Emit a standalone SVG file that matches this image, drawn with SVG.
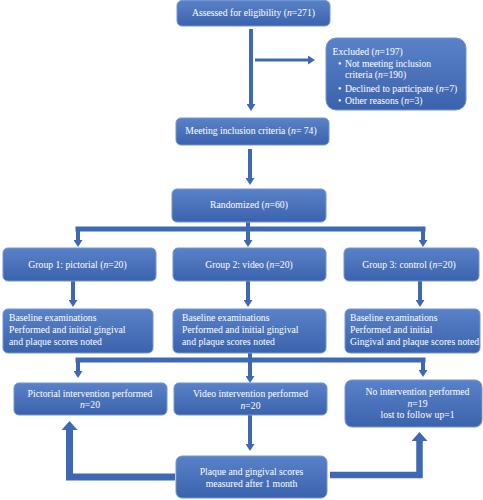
<svg xmlns="http://www.w3.org/2000/svg" width="483" height="500" viewBox="0 0 483 500">
<defs>
<linearGradient id="bg" x1="0" y1="0" x2="0" y2="1">
<stop offset="0" stop-color="#5a82c8"/>
<stop offset="1" stop-color="#3b62ad"/>
</linearGradient>
<marker id="ah" viewBox="0 0 7 9" markerWidth="7" markerHeight="9" refX="0" refY="4.5" orient="auto" markerUnits="userSpaceOnUse">
<path d="M0,0 L7,4.5 L0,9 z" fill="#3f68b4"/>
</marker>
<marker id="bigah" viewBox="0 0 9 16" markerWidth="9" markerHeight="16" refX="0" refY="8" orient="auto" markerUnits="userSpaceOnUse">
<path d="M0,0 L9,8 L0,16 z" fill="#3f68b4"/>
</marker>
</defs>
<style>
.box{fill:url(#bg);stroke:#7395d2;stroke-width:1}
.t{font-family:"Liberation Serif","Times New Roman",serif;font-size:9.7px;fill:#ffffff}
.c{text-anchor:middle}
.i{font-style:italic}
.ln{fill:none;stroke:#3f68b4;stroke-linejoin:miter}
.a{marker-end:url(#ah)}
.b{marker-end:url(#bigah)}
</style>
<rect width="483" height="500" fill="#ffffff"/>

<g id="connectors">
<path class="ln a" stroke-width="4" d="M251,29 V104"/>
<path class="ln a" stroke-width="3" d="M255,60 H308"/>
<path class="ln a" stroke-width="4" d="M250,149 V178"/>
<path class="ln" stroke-width="4" d="M248,222 V229"/>
<path class="ln" stroke-width="5" d="M75.5,229 H425.5"/>
<path class="ln a" stroke-width="4" d="M78,229 V240"/>
<path class="ln a" stroke-width="4" d="M248,229 V240"/>
<path class="ln a" stroke-width="4" d="M423,229 V240"/>
<path class="ln a" stroke-width="4" d="M73,281 V300"/>
<path class="ln a" stroke-width="4" d="M248,281 V300"/>
<path class="ln a" stroke-width="4" d="M420,281 V300"/>
<path class="ln" stroke-width="4" d="M250,353 V360"/>
<path class="ln" stroke-width="5" d="M75.5,360 H425.5"/>
<path class="ln a" stroke-width="4" d="M78,360 V371"/>
<path class="ln a" stroke-width="4" d="M250,360 V376"/>
<path class="ln a" stroke-width="4" d="M423,360 V370"/>
<path class="ln a" stroke-width="4" d="M250,415 V444"/>
<path class="ln b" stroke-width="7" d="M175,477 H69.5 V430"/>
<path class="ln b" stroke-width="6.5" d="M330,475 H419.5 V441"/>
</g>

<g id="assessed">
<rect class="box" x="177" y="0.5" width="153" height="25.5" rx="5"/>
<text class="t c" x="253.5" y="15.5">Assessed for eligibility (<tspan class="i">n</tspan>=271)</text>
</g>

<g id="excluded">
<rect class="box" x="326" y="38" width="140" height="72" rx="10"/>
<text class="t" x="332.5" y="55">Excluded (<tspan class="i">n</tspan>=197)</text>
<text class="t" x="338" y="66.5">•</text>
<text class="t" x="345" y="66.5">Not meeting inclusion</text>
<text class="t" x="345" y="78">criteria (<tspan class="i">n</tspan>=190)</text>
<text class="t" x="338" y="91.5">•</text>
<text class="t" x="345" y="91.5">Declined to participate (<tspan class="i">n</tspan>=7)</text>
<text class="t" x="338" y="103.5">•</text>
<text class="t" x="345" y="103.5">Other reasons (<tspan class="i">n</tspan>=3)</text>
</g>

<g id="meeting">
<rect class="box" x="176" y="118" width="153" height="27" rx="5"/>
<text class="t c" x="251" y="134">Meeting inclusion criteria (<tspan class="i">n</tspan>= 74)</text>
</g>

<g id="randomized">
<rect class="box" x="172" y="189" width="154" height="33" rx="5"/>
<text class="t c" x="249" y="208">Randomized (<tspan class="i">n</tspan>=60)</text>
</g>

<g id="group1">
<rect class="box" x="3" y="248" width="153" height="33" rx="5"/>
<text class="t c" x="77.5" y="267.5">Group 1: pictorial (<tspan class="i">n</tspan>=20)</text>
</g>
<g id="group2">
<rect class="box" x="173" y="248" width="153" height="33" rx="5"/>
<text class="t c" x="249" y="267.5">Group 2: video (<tspan class="i">n</tspan>=20)</text>
</g>
<g id="group3">
<rect class="box" x="344" y="248" width="135" height="33" rx="5"/>
<text class="t c" x="409" y="267.5">Group 3: control (<tspan class="i">n</tspan>=20)</text>
</g>

<g id="baseline1">
<rect class="box" x="3" y="309" width="150" height="44" rx="5"/>
<text class="t" x="9" y="320.5">Baseline examinations</text>
<text class="t" x="9" y="332.5">Performed and initial gingival</text>
<text class="t" x="9" y="344.5">and plaque scores noted</text>
</g>
<g id="baseline2">
<rect class="box" x="173" y="309" width="153" height="44" rx="5"/>
<text class="t" x="182" y="320.5">Baseline examinations</text>
<text class="t" x="182" y="332.5">Performed and initial gingival</text>
<text class="t" x="182" y="344.5">and plaque scores noted</text>
</g>
<g id="baseline3">
<rect class="box" x="345" y="309" width="135" height="44" rx="5"/>
<text class="t" x="350" y="320.5">Baseline examinations</text>
<text class="t" x="350" y="332.5">Performed and initial</text>
<text class="t" x="350" y="344.5">Gingival and plaque scores noted</text>
</g>

<g id="pictorial">
<rect class="box" x="14" y="383" width="153" height="32" rx="5"/>
<text class="t c" x="90" y="396.5">Pictorial intervention performed</text>
<text class="t c" x="90" y="408"><tspan class="i">n</tspan>=20</text>
</g>
<g id="video">
<rect class="box" x="174" y="383" width="153" height="32" rx="5"/>
<text class="t c" x="250.5" y="397">Video intervention performed</text>
<text class="t c" x="250.5" y="408.5"><tspan class="i">n</tspan>=20</text>
</g>
<g id="nointervention">
<rect class="box" x="345" y="380" width="137" height="47" rx="7"/>
<text class="t c" x="417.5" y="395">No intervention performed</text>
<text class="t c" x="417.5" y="406.5"><tspan class="i">n</tspan>=19</text>
<text class="t c" x="417.5" y="418">lost to follow up=1</text>
</g>

<g id="plaque">
<rect class="box" x="176" y="456" width="151" height="42" rx="6"/>
<text class="t c" x="251.5" y="474.5">Plaque and gingival scores</text>
<text class="t c" x="251.5" y="486.5">measured after 1 month</text>
</g>
</svg>
